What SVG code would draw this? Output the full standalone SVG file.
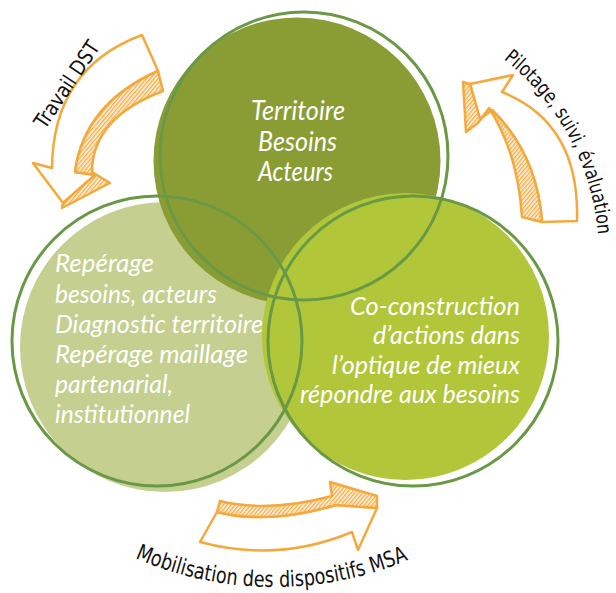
<svg xmlns="http://www.w3.org/2000/svg" width="616" height="593" viewBox="0 0 616 593">
<defs>
<pattern id="hatch" patternUnits="userSpaceOnUse" width="3" height="3" patternTransform="rotate(40)">
<rect width="3" height="3" fill="#fdf3e4"/>
<line x1="0.7" y1="0" x2="0.7" y2="3" stroke="#f4a93d" stroke-width="1.3"/>
</pattern>
<path id="p-travail" d="M45,130 L102,45"/>
<path id="p-pilotage" d="M503.6,59 A251,251 0 0 1 598.1,235"/>
<path id="p-mobil" d="M135,558 A347,347 0 0 0 408,560"/>
</defs>
<style>
.disc{stroke:none}
.ring{fill:none;stroke:#6a9946;stroke-width:3}
.in{font-family:Lato,'Open Sans',sans-serif;font-style:italic;fill:#ffffff}
.big{font-size:27px}
.mid{font-size:26px}
.lbl{font-family:'DejaVu Sans','Liberation Sans',sans-serif;fill:#111111}
.l22{font-size:21px}
.l21{font-size:20px}
.l23{font-size:22px}
.face{fill:#ffffff;stroke:#f4a93d;stroke-width:2.5;stroke-linejoin:round}
.hatch{fill:url(#hatch);stroke:#f4a93d;stroke-width:2.5;stroke-linejoin:round}
</style>
<rect width="616" height="593" fill="#ffffff"/>

<g id="discs">
<circle id="disc-reperage" class="disc" cx="165" cy="347" r="145" fill="#c4cf90"/>
<circle id="disc-territoire" class="disc" cx="297" cy="161" r="143.5" fill="#8a9d34"/>
<circle id="disc-coconstruction" class="disc" cx="405.5" cy="336.5" r="143.5" fill="#b1c639"/>
</g>

<g id="node-territoire">
<circle class="ring" cx="304" cy="156" r="144"/>
<text class="in big"><tspan x="251" y="120" textLength="94" lengthAdjust="spacingAndGlyphs">Territoire</tspan><tspan x="258" y="151" textLength="79" lengthAdjust="spacingAndGlyphs">Besoins</tspan><tspan x="258" y="181" textLength="75" lengthAdjust="spacingAndGlyphs">Acteurs</tspan></text>
</g>

<g id="node-reperage">
<circle class="ring" cx="157" cy="341" r="145"/>
<text class="in mid"><tspan x="55" y="272" textLength="99" lengthAdjust="spacingAndGlyphs">Repérage</tspan><tspan x="55" y="303" textLength="162" lengthAdjust="spacingAndGlyphs">besoins, acteurs</tspan><tspan x="55" y="333" textLength="208" lengthAdjust="spacingAndGlyphs">Diagnostic territoire</tspan><tspan x="55" y="363" textLength="193" lengthAdjust="spacingAndGlyphs">Repérage maillage</tspan><tspan x="55" y="393" textLength="118" lengthAdjust="spacingAndGlyphs">partenarial,</tspan><tspan x="55" y="423" textLength="135" lengthAdjust="spacingAndGlyphs">institutionnel</tspan></text>
</g>

<g id="node-coconstruction">
<circle class="ring" cx="413" cy="341" r="145"/>
<text class="in mid"><tspan x="350" y="315" textLength="170" lengthAdjust="spacingAndGlyphs">Co-construction</tspan><tspan x="373" y="344" textLength="147" lengthAdjust="spacingAndGlyphs">d’actions dans</tspan><tspan x="332" y="374" textLength="188" lengthAdjust="spacingAndGlyphs">l’optique de mieux</tspan><tspan x="300" y="403" textLength="220" lengthAdjust="spacingAndGlyphs">répondre aux besoins</tspan></text>
</g>

<g id="connectors">
<g id="arrow-travail">
<path class="face" d="M142,35 L158,71 Q84,104 75,172 L95,175 L63,203 L33,163 L52,168 Q53,68 142,35 Z"/>
<path class="hatch" d="M158,71 L163,91 Q92,118 92,172 L110,183 L62,208 L63,203 L95,175 L75,172 Q84,104 158,71 Z"/>
<text class="lbl l22"><textPath href="#p-travail" textLength="100" lengthAdjust="spacingAndGlyphs">Travail DST</textPath></text>
</g>
<g id="arrow-pilotage">
<path class="face" d="M542,222 L577,221 Q580,123 502,92 L513,75 L470,84 L480,119 L492,110 Q537,154 542,222 Z"/>
<path class="hatch" d="M463,82 L466,132 L478,123 L489,108 Q518,153 522,217 L542,222 Q537,154 492,110 L480,119 L470,84 Z"/>
<text class="lbl l21"><textPath href="#p-pilotage" textLength="205" lengthAdjust="spacingAndGlyphs">Pilotage, suivi, évaluation</textPath></text>
</g>
<g id="arrow-mobilisation">
<path class="face" d="M200,542 L217,512 Q268,525 336,505 L377,508 L358,550 L352,532 Q278,563 200,542 Z"/>
<path class="hatch" d="M220,501 Q268,513 332,496 L330,482 L377,496 L377,508 L336,505 Q268,525 217,512 Z"/>
<text class="lbl l23"><textPath href="#p-mobil" textLength="281" lengthAdjust="spacingAndGlyphs">Mobilisation des dispositifs MSA</textPath></text>
</g>
</g>
</svg>
